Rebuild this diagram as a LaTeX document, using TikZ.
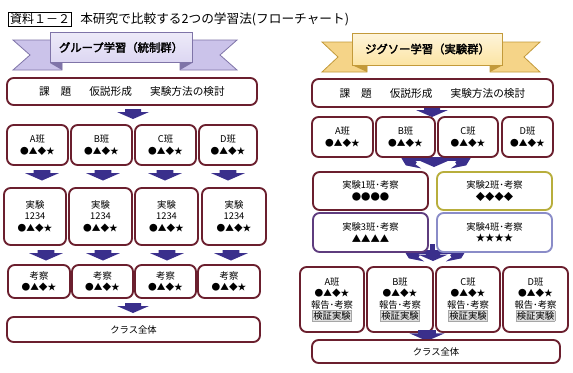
\documentclass[tikz,border=0pt]{standalone}
\usepackage{fontspec}
\setmainfont{Noto Sans CJK JP}[AutoFakeBold=2.5]
\definecolor{boxred}{HTML}{6B1F2E}
\definecolor{arrowc}{HTML}{3A2F8C}
\definecolor{blfill}{HTML}{DCD6F2}
\definecolor{bldraw}{HTML}{7F74A8}
\definecolor{bltail}{HTML}{CBC3EA}
\definecolor{brfill}{HTML}{FCE4A4}
\definecolor{brdraw}{HTML}{C39A3A}
\definecolor{brtail}{HTML}{F5D488}
\definecolor{olive}{HTML}{B8AE3C}
\definecolor{purp}{HTML}{5E3C7E}
\definecolor{lblue}{HTML}{8A8CC8}
\newcommand\bx[7][]{\node[box,#1,minimum width={(#5-#3)*0.75pt},minimum height={(#6-#4)*0.75pt}] (#2) at ({(#3+#5)/2},{(#4+#6)/2}) {#7};}
\newcommand\darr[4][1]{\fill[arrowc,shift={(#2,#3)},rotate=#4,scale=#1] (-8,0) -- (8,0) -- (8,3) -- (16,3) -- (0,10) -- (-16,3) -- (-8,3) -- cycle;}
\newcommand\sym[1]{{\fontsize{6.5}{8}\selectfont #1}}
\newcommand\kensho{{\setlength\fboxsep{0.6pt}\setlength\fboxrule{0.3pt}\fcolorbox{gray!70}{gray!25}{検証実験}}}
\begin{document}
\begin{tikzpicture}[x=0.75pt,y=-0.75pt,
  box/.style={draw=boxred,line width=1.4pt,rounded corners=5pt,fill=white,align=center,inner sep=0pt,font=\fontsize{7}{8.5}\selectfont},
  bannertext/.style={font=\fontsize{8.5}{10}\selectfont\bfseries},
]
\useasboundingbox (0,0) rectangle (573,372);
\fill[white] (0,0) rectangle (573,372);

% title
\node[draw,line width=0.5pt,inner sep=1pt,font=\fontsize{9}{10}\selectfont] (lbl) at (40,19) {資料１－２};
\node[anchor=west,inner sep=0pt,font=\fontsize{9.5}{11}\selectfont] (ttl) at (80,19) {本研究で比較する2つの学習法(フローチャート)};

% ---- left banner
\filldraw[fill=bltail,draw=bldraw,line width=0.6pt] (13,40) -- (62,40) -- (62,70) -- (13,70) -- (30,55) -- cycle;
\filldraw[fill=bltail,draw=bldraw,line width=0.6pt] (180,40) -- (237,40) -- (220,55) -- (237,70) -- (180,70) -- cycle;
\fill[bldraw] (50,63) -- (62,63) -- (62,70) -- cycle;
\fill[bldraw] (180,63) -- (192,63) -- (180,70) -- cycle;
\node[bannertext,draw=bldraw,line width=0.7pt,top color=blfill!50,bottom color=blfill,minimum width=106.5pt,minimum height=23pt] (bannerL) at (121,47.5) {グループ学習（統制群）};

% ---- right banner
\filldraw[fill=brtail,draw=brdraw,line width=0.6pt] (322,42) -- (367,42) -- (367,72) -- (322,72) -- (338,57) -- cycle;
\filldraw[fill=brtail,draw=brdraw,line width=0.6pt] (490,42) -- (540,42) -- (524,57) -- (540,72) -- (490,72) -- cycle;
\fill[brdraw] (352,65) -- (367,65) -- (367,72) -- cycle;
\fill[brdraw] (490,65) -- (503,65) -- (490,72) -- cycle;
\node[bannertext,draw=brdraw,line width=0.7pt,top color=brfill!40,bottom color=brfill,minimum width=113pt,minimum height=24pt] (bannerR) at (427.5,49) {ジグソー学習（実験群）};

% ================= LEFT COLUMN =================
\darr{133}{109}{0}
\foreach \x in {42,103,165,228} {\darr[1.05]{\x}{170}{0}}
\foreach \x in {46,103,167,231} {\darr[1.05]{\x}{250}{0}}
\darr{133}{303}{0}

\bx{Lmain}{7}{78}{257}{105}{\fontsize{8}{9}\selectfont 課\hspace{1em}題\hspace{1.7em}仮説形成\hspace{1.7em}実験方法の検討}
\bx{LA}{7}{125}{68}{165}{A班\\\sym{●▲◆★}}
\bx{LB}{71}{125}{132}{165}{B班\\\sym{●▲◆★}}
\bx{LC}{135}{125}{196}{165}{C班\\\sym{●▲◆★}}
\bx{LD}{199}{125}{257}{165}{D班\\\sym{●▲◆★}}
\bx{LE1}{4}{188}{66}{245}{実験\\1234\\\sym{●▲◆★}}
\bx{LE2}{69}{188}{132}{245}{実験\\1234\\\sym{●▲◆★}}
\bx{LE3}{135}{188}{198}{245}{実験\\1234\\\sym{●▲◆★}}
\bx{LE4}{202}{188}{266}{245}{実験\\1234\\\sym{●▲◆★}}
\bx{LK1}{8}{265}{70}{298}{考察\\\sym{●▲◆★}}
\bx{LK2}{72}{265}{133}{298}{考察\\\sym{●▲◆★}}
\bx{LK3}{135}{265}{196}{298}{考察\\\sym{●▲◆★}}
\bx{LK4}{198}{265}{260}{298}{考察\\\sym{●▲◆★}}
\bx{Lclass}{7}{317}{260}{342}{クラス全体}

% ================= RIGHT COLUMN =================
\darr{432}{107}{0}
% split arrows (home groups -> expert groups)
\fill[arrowc] (410,157) rectangle (462,161);
\darr[0.9]{411}{158}{-35}
\darr[0.9]{434}{158}{0}
\darr[0.9]{461}{158}{35}

\bx{Rmain}{312}{79}{553}{107}{\fontsize{8}{9}\selectfont 課\hspace{1em}題\hspace{1.7em}仮説形成\hspace{1.7em}実験方法の検討}
\bx{RA}{312}{117}{373}{157}{A班\\\sym{●▲◆★}}
\bx{RB}{376}{117}{435}{157}{B班\\\sym{●▲◆★}}
\bx{RC}{438}{117}{498}{157}{C班\\\sym{●▲◆★}}
\bx{RD}{502}{117}{553}{157}{D班\\\sym{●▲◆★}}

% merge arrows (expert groups -> home groups)
\fill[arrowc] (414,250) rectangle (456,254);
\fill[arrowc] (430,244) rectangle (435,252);
\darr[0.9]{414}{251}{-35}
\darr[0.9]{433}{252}{0}
\darr[0.9]{456}{251}{35}

\bx{G1}{313}{172}{428}{210}{実験1班･考察\\●●●●}
\bx[draw=olive]{G2}{437}{172}{552}{210}{実験2班･考察\\◆◆◆◆}
\bx[draw=purp]{G3}{313}{213}{428}{252}{実験3班･考察\\▲▲▲▲}
\bx[draw=lblue]{G4}{437}{213}{552}{252}{実験4班･考察\\★★★★}

\bx{HA}{300}{267}{364}{332}{A班\\\sym{●▲◆★}\\報告･考察\\\kensho}
\bx{HB}{367}{267}{433}{332}{B班\\\sym{●▲◆★}\\報告･考察\\\kensho}
\bx{HC}{436}{267}{500}{332}{C班\\\sym{●▲◆★}\\報告･考察\\\kensho}
\bx{HD}{503}{267}{568}{332}{D班\\\sym{●▲◆★}\\報告･考察\\\kensho}
\darr[1.1]{427}{330}{0}
\bx{Rclass}{312}{340}{560}{363}{クラス全体}
\end{tikzpicture}
\end{document}
